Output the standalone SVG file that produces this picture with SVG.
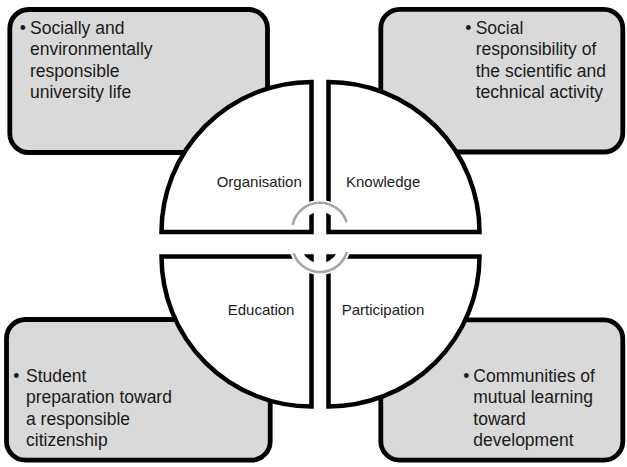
<svg xmlns="http://www.w3.org/2000/svg" width="627" height="467" viewBox="0 0 627 467">
  <style>
    .box { fill: #d9d9d9; stroke: #000; stroke-width: 4.8; }
    .quarter { fill: #fff; stroke: #000; stroke-width: 4.5; stroke-linejoin: miter; }
    .btxt { font-family: "Liberation Sans", Arial, sans-serif; font-size: 17.5px; fill: #1a1a1a; }
    .qtxt { font-family: "Liberation Sans", Arial, sans-serif; font-size: 15px; fill: #1a1a1a; }
    .band { fill: none; stroke: #fff; stroke-width: 12; }
    .arc { fill: none; stroke: #a6a6a6; stroke-width: 2.6; }
  </style>
  <rect width="627" height="467" fill="#fff"/>

  <g id="box-top-left">
    <rect class="box" x="9.8" y="9.5" width="257.7" height="143" rx="19"/>
    <text class="btxt">
      <tspan x="19.8" y="34">•</tspan><tspan x="30" y="34">Socially and</tspan>
      <tspan x="30" y="55.3">environmentally</tspan>
      <tspan x="30" y="76.6">responsible</tspan>
      <tspan x="30" y="98">university life</tspan>
    </text>
  </g>

  <g id="box-top-right">
    <rect class="box" x="380.8" y="9.3" width="242" height="142.7" rx="19"/>
    <text class="btxt">
      <tspan x="465.3" y="34">•</tspan><tspan x="475.7" y="34">Social</tspan>
      <tspan x="475.7" y="55.3">responsibility of</tspan>
      <tspan x="475.7" y="76.6">the scientific and</tspan>
      <tspan x="475.7" y="98">technical activity</tspan>
    </text>
  </g>

  <g id="box-bottom-left">
    <rect class="box" x="6.5" y="319.5" width="263.7" height="140.7" rx="19"/>
    <text class="btxt">
      <tspan x="13.3" y="382">•</tspan><tspan x="26" y="382">Student</tspan>
      <tspan x="26" y="403.3">preparation toward</tspan>
      <tspan x="26" y="424.6">a responsible</tspan>
      <tspan x="26" y="446">citizenship</tspan>
    </text>
  </g>

  <g id="box-bottom-right">
    <rect class="box" x="380.8" y="319.8" width="242" height="140.4" rx="19"/>
    <text class="btxt">
      <tspan x="463.3" y="382">•</tspan><tspan x="473.3" y="382">Communities of</tspan>
      <tspan x="473.3" y="403.3">mutual learning</tspan>
      <tspan x="473.3" y="424.6">toward</tspan>
      <tspan x="473.3" y="446">development</tspan>
    </text>
  </g>

  <g id="quarter-organisation">
    <path class="quarter" d="M311.5,82 L311.5,232 L161.5,232 A150,150 0 0 1 311.5,82 Z"/>
    <text class="qtxt" x="216.7" y="186.5">Organisation</text>
  </g>

  <g id="quarter-knowledge">
    <path class="quarter" d="M328.5,82 L328.5,232 L479.5,232 A151,150 0 0 0 328.5,82 Z"/>
    <text class="qtxt" x="346" y="186.5">Knowledge</text>
  </g>

  <g id="quarter-education">
    <path class="quarter" d="M311.5,256.5 L311.5,406.5 A150,150 0 0 1 161.5,256.5 Z"/>
    <text class="qtxt" x="227.7" y="315">Education</text>
  </g>

  <g id="quarter-participation">
    <path class="quarter" d="M328.5,256.5 L328.5,406.5 A151,150 0 0 0 479.5,256.5 Z"/>
    <text class="qtxt" x="341.7" y="315">Participation</text>
  </g>

  <g id="connectors">
    <path class="band" d="M295.6,225.6 A25,25 0 0 1 343.7,223.1"/>
    <path class="arc" d="M292.6,224.9 A28,28 0 0 1 346.6,222.1"/>
    <path class="band" d="M295.8,250.5 A25,25 0 0 0 343.9,251.3"/>
    <path class="arc" d="M293.6,253.3 A28,28 0 0 0 346.8,252.2"/>
  </g>
</svg>
